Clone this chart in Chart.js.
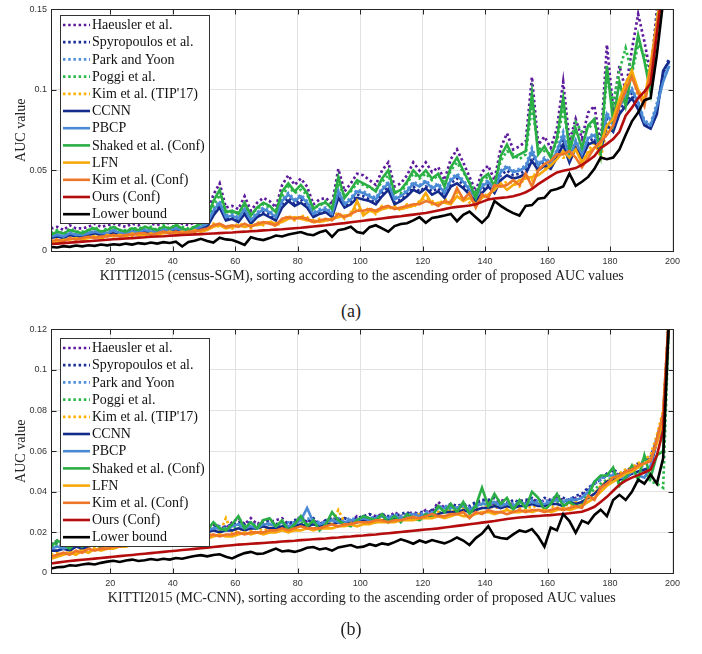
<!DOCTYPE html>
<html>
<head>
<meta charset="utf-8">
<script src="https://cdn.jsdelivr.net/npm/chart.js@4.4.1/dist/chart.umd.min.js"></script>
<style>
  body { margin: 0; background: #fff; width: 702px; height: 654px; position: relative; overflow: hidden; }
  .wrap { position: absolute; left: 0; width: 702px; }
  .cap { position: absolute; left: 0; width: 702px; text-align: center; font: 18px "Liberation Serif", serif; color: #222; }
</style>
</head>
<body>
<div class="wrap" style="top:0;height:300px"><canvas id="chartA"></canvas></div>
<div class="cap" style="top:301px">(a)</div>
<div class="wrap" style="top:320px;height:302px"><canvas id="chartB"></canvas></div>
<div class="cap" style="top:619px">(b)</div>
<script>
// sorted image index (x) shared by every series
const xValues = [1,3,5,7,9,11,13,15,17,19,21,23,25,27,29,31,33,35,37,39,41,43,45,47,49,51,53,55,57,59,
  61,63,65,67,69,71,73,75,77,79,81,83,85,87,89,91,93,95,97,99,101,103,105,107,109,111,113,115,117,119,
  121,123,125,127,129,131,133,135,137,139,141,143,145,147,149,151,153,155,157,159,161,163,165,167,169,171,173,175,177,179,
  181,183,185,187,189,191,193,195,197,199];
const xTicks = [20,40,60,80,100,120,140,160,180,200];
const yTicksA = [0,0.05,0.1,0.15];
const yLabelsA = ['0','0.05','0.1','0.15'];
const yTicksB = [0,0.02,0.04,0.06,0.08,0.1,0.12];
const yLabelsB = ['0','0.02','0.04','0.06','0.08','0.1','0.12'];

const seriesNames = ['Haeusler et al.','Spyropoulos et al.','Park and Yoon','Poggi et al.',"Kim et al. (TIP'17)",
  'CCNN','PBCP','Shaked et al. (Conf)','LFN','Kim et al. (Conf)','Ours (Conf)','Lower bound'];

// (a) KITTI2015 census-SGM, AUC values x 1e-3
const haeuslerA = [14,15,13,16,14,14,15,17,15,16, 17,16,15,17,16,18,17,16,18,17, 19,17,16,18,20,23,35,42,27,28,
  26,34,25,30,33,31,27,41,47,41, 45,40,29,32,33,29,51,37,42,48, 47,44,41,50,55,40,42,47,55,50,
  55,49,52,44,57,63,55,46,37,49, 53,44,64,73,63,65,68,108,66,71, 64,76,105,68,82,70,86,90,66,128,
  88,115,100,125,147,130,110,150,180,200];
const spyroA = [9,10,9,11,10,10,11,12,11,11, 12,11,11,12,12,13,12,12,13,12, 14,13,12,13,15,16,24,29,20,21,
  19,25,18,22,24,23,20,29,33,29, 32,28,22,24,25,22,35,28,31,35, 34,32,30,36,40,30,32,35,40,37,
  40,37,39,34,42,45,41,36,32,38, 41,37,47,50,47,48,50,60,52,55, 53,60,70,57,66,59,68,70,63,82,
  76,88,92,98,90,79,77,88,110,120];
const parkA = [10,11,9,12,10,11,12,12,11,12, 13,12,11,13,12,14,13,12,14,13, 15,13,13,14,16,18,26,31,22,23,
  21,27,20,24,27,25,22,32,36,32, 35,31,24,26,27,24,38,30,33,38, 37,35,33,39,43,33,35,38,43,41,
  44,40,42,37,45,48,44,39,34,41, 44,39,50,53,50,51,53,64,54,58, 55,63,74,59,69,61,71,73,64,86,
  79,91,96,101,93,81,79,92,108,118];
const poggiA = [11,13,10,14,12,12,13,15,12,14, 15,13,13,14,14,15,15,13,16,14, 16,15,14,15,17,19,28,35,25,24,
  24,28,23,26,29,27,25,34,40,36, 38,35,27,28,31,27,42,34,37,42, 41,39,38,43,47,37,36,42,48,45,
  48,44,47,42,50,55,49,43,36,44, 46,42,56,62,60,57,60,90,64,62, 60,68,88,66,80,74,76,80,64,108,
  92,112,126,110,128,122,104,145,175,195];
const kimTipA = [6,8,6,9,7,9,8,10,8,9, 11,9,10,9,11,10,12,10,11,12, 13,11,12,11,13,15,17,15,16,14,
  17,16,14,18,16,19,15,19,22,19, 22,21,17,20,18,21,24,20,24,27, 24,27,23,28,26,28,25,29,27,31,
  33,31,29,32,31,36,33,30,28,36, 34,40,41,43,42,40,47,44,52,51, 55,60,58,57,65,54,62,68,58,75,
  80,92,102,110,96,92,114,140,170,195];
const ccnnA = [8,9,8,10,9,9,10,11,10,10, 11,10,10,11,11,12,11,11,12,12, 13,12,11,13,14,15,22,27,19,20,
  18,23,17,21,23,21,19,27,31,28, 30,27,21,23,24,21,33,27,29,33, 32,31,29,34,38,29,31,34,38,36,
  39,35,37,33,40,42,39,35,31,36, 40,36,44,47,45,46,48,56,50,53, 51,58,66,55,64,58,66,68,62,78,
  74,85,90,95,88,78,76,85,112,118];
const pbcpA = [9,10,9,11,10,10,11,12,11,11, 13,11,11,12,12,13,12,12,13,13, 14,13,12,14,15,17,25,30,21,22,
  20,26,19,23,26,24,21,31,35,31, 34,30,23,25,26,23,37,29,32,37, 36,34,32,38,42,32,34,37,42,40,
  43,39,41,36,44,47,43,38,33,40, 43,38,49,52,49,50,52,62,53,57, 54,62,72,58,68,60,70,72,63,85,
  78,90,95,100,92,80,78,90,105,115];
const shakedA = [10,12,11,13,12,11,13,14,12,13, 15,13,12,14,13,15,14,13,15,14, 16,14,13,15,17,20,31,38,24,25,
  23,30,22,27,30,28,24,37,42,37, 41,36,26,29,30,26,46,33,38,44, 42,40,37,45,50,36,38,43,50,46,
  50,45,48,40,52,58,50,42,33,45, 48,40,59,66,58,60,62,98,60,65, 58,70,95,62,76,64,78,82,60,115,
  80,105,90,112,134,118,98,140,170,190];
const lfnA = [5,6,7,7,8,7,8,9,8,10, 9,10,9,11,10,10,11,10,11,12, 11,12,11,13,12,13,15,16,14,15,
  16,15,16,16,17,18,17,18,20,21, 20,19,19,18,19,20,21,22,22,31, 22,25,24,26,27,27,26,27,28,30,
  36,29,30,30,29,34,31,33,29,33, 35,38,42,38,41,44,45,46,47,50, 53,57,62,58,63,55,61,64,66,78,
  82,94,104,112,100,94,116,142,172,195];
const kimConfA = [6,7,6,8,7,8,9,8,9,9, 10,9,10,10,11,11,10,11,12,11, 12,11,12,12,13,14,16,17,15,16,
  15,17,15,17,18,17,16,20,21,20, 21,20,18,19,20,19,23,21,23,25, 25,26,25,27,28,26,27,28,29,29,
  31,30,28,31,30,39,32,36,27,35, 33,41,40,41,44,41,48,40,50,54, 56,60,60,62,58,52,58,64,68,72,
  78,90,100,108,98,90,112,140,170,195];
const oursA = [4.3,4.6,4.9,5.2,5.5,5.8,6.1,6.4,6.7,7.0, 7.3,7.5,7.8,8.0,8.3,8.5,8.8,9.0,9.2,9.5,
  9.7,9.9,10.1,10.3,10.5,10.7,10.9,11.1,11.3,11.5, 11.8,12.0,12.3,12.5,12.8,13.0,13.3,13.5,13.8,14.1,
  14.4,14.8,15.2,15.6,16.0,16.5,16.9,17.3,17.8,18.3, 18.8,19.3,19.7,20.2,20.7,21.2,21.6,22.1,22.6,23.1,
  23.6,24.4,25.2,26.0,26.8,27.4,27.8,28.2,29.0,30.5, 32.0,32.6,33.0,33.4,34.0,35.0,36.5,38.5,41.5,44.0,
  46.5,48.8,49.8,50.6,51.5,53.5,56.0,59.0,64.0,66.5, 69.5,74.0,84.0,89.0,95.0,99.0,104,135,165,190];
const lowerA = [2.5,2.2,3.0,2.6,3.4,2.9,3.6,3.2,4.0,3.5, 4.2,3.8,4.6,4.0,4.9,4.4,5.3,4.6,5.5,5.0,
  5.8,2.8,5.6,6.3,7.6,6.2,5.2,8.2,7.2,6.8, 5.4,3.8,8.6,7.4,6.8,8.0,9.6,9.0,10.2,11.0,
  11.8,10.4,9.8,11.6,12.8,8.8,12.9,13.6,15.0,11.8, 11.0,14.8,16.0,14.0,12.0,15.5,16.8,17.2,19.0,21.0,
  17.5,20.5,21.2,22.0,23.0,18.5,22.5,24.5,21.0,17.5, 21.5,31.0,28.0,25.5,23.5,22.0,28.0,28.5,32.5,33.0,
  37.5,38.5,40.0,48.0,40.5,43.0,46.0,51.0,58.0,57.0, 58.0,63.0,72.0,80.5,86.0,93.5,95.0,122,155,190];

// (b) KITTI2015 MC-CNN, AUC values x 1e-3
const haeuslerB = [14,16,15,13,16,15,17,15,16,17, 18,15,17,16,18,17,19,17,19,18, 19,20,20,21,21,22,24,23,22,25,
  27,24,27,24,26,25,26,27,24,25, 28,25,26,24,26,27,26,27,25,28, 27,29,28,29,27,30,28,29,30,29,
  31,30,35,32,33,32,34,32,34,36, 35,34,36,35,34,36,35,37,34,36, 35,37,36,35,37,38,41,44,46,48,
  50,48,50,52,53,56,57,65,76,130];
const spyroB = [13,15,13,14,15,14,16,15,14,16, 17,16,17,16,18,17,19,18,17,20, 18,20,19,21,20,22,23,22,23,24,
  25,24,25,23,25,26,24,25,24,26, 27,25,27,24,26,27,26,27,26,27, 28,29,27,29,28,28,29,30,28,30,
  30,31,33,32,34,33,34,33,35,36, 36,37,35,34,36,35,36,37,35,37, 36,38,37,36,38,39,42,44,46,49,
  51,49,50,52,54,55,57,66,78,130];
const parkB = [12,13,14,13,14,15,14,16,15,15, 17,16,16,17,17,18,18,17,19,18, 19,20,20,21,20,21,22,23,22,23,
  24,23,24,24,23,25,24,24,25,25, 26,27,26,25,25,26,27,26,27,26, 28,27,28,28,27,29,28,29,29,29,
  30,30,32,33,33,32,34,32,33,35, 34,35,34,35,34,35,34,36,35,35, 36,36,35,37,36,37,40,44,46,48,
  49,48,49,51,52,53,56,67,74,130];
const poggiB = [12,14,13,15,13,14,15,13,15,14, 16,15,15,16,16,15,17,16,17,18, 17,18,19,19,20,20,22,21,22,22,
  23,23,22,24,23,24,23,24,22,24, 25,24,25,23,24,26,25,24,25,25, 26,26,25,27,25,27,26,28,27,26,
  28,28,30,30,31,30,32,30,32,34, 33,34,33,34,32,34,33,35,34,33, 34,35,34,35,34,35,39,41,44,46,
  47,45,47,49,47,50,45,44,42,130];
const kimTipB = [9,10,9,11,10,12,11,13,12,14, 13,15,14,16,15,16,17,16,17,18, 17,19,18,19,20,19,21,20,27,20,
  21,22,21,22,21,22,23,22,23,22, 24,23,24,23,24,25,31,25,25,26, 26,25,27,26,27,26,28,27,28,29,
  28,29,30,31,30,31,32,30,31,32, 33,32,33,32,34,32,33,32,34,32, 33,32,34,33,35,34,37,39,43,45,
  48,49,51,52,54,56,58,68,80,130];
const ccnnB = [11,11,12,11,13,12,13,14,13,14, 15,14,15,15,16,16,17,16,17,17, 18,18,19,19,19,20,21,20,21,21,
  22,21,22,22,23,22,22,23,22,23, 24,23,24,23,24,24,25,25,24,25, 26,25,26,26,26,27,26,27,27,27,
  28,28,29,30,30,30,31,30,31,32, 32,33,32,33,32,33,33,34,33,33, 34,34,33,35,34,35,37,39,42,45,
  46,46,47,49,50,51,52,65,72,130];
const pbcpB = [12,13,12,13,14,13,15,14,15,15, 16,15,16,17,16,17,18,17,18,18, 19,19,20,20,21,21,22,22,21,23,
  24,22,23,22,24,24,23,25,23,24, 26,32,25,24,25,26,25,25,26,26, 27,26,27,28,27,28,27,28,29,28,
  29,29,32,32,32,32,33,31,33,34, 34,35,33,34,33,35,34,35,34,34, 35,36,35,36,36,37,40,45,47,48,
  48,47,47,50,48,47,53,66,70,130];
const shakedB = [13,16,14,12,15,13,16,14,13,15, 17,14,16,15,17,15,18,16,17,19, 17,19,18,20,19,21,25,22,21,24,
  28,22,25,22,26,27,23,26,21,24, 28,23,26,21,24,30,26,24,23,26, 28,27,26,29,25,28,25,29,27,26,
  29,28,33,30,34,30,35,29,33,42, 33,39,34,37,31,36,32,40,37,31, 34,39,33,35,33,33,38,45,48,48,
  52,43,47,53,46,58,47,58,60,130];
const lfnB = [7,8,9,10,9,11,10,12,11,12, 12,13,13,14,14,15,14,15,15,16, 16,16,17,17,18,17,18,19,18,18,
  19,20,19,20,19,20,20,21,20,21, 21,22,21,22,22,22,23,23,24,23, 24,24,25,25,25,25,26,26,26,27,
  27,27,28,27,28,29,28,28,29,30, 30,29,30,31,30,30,31,30,31,31, 30,31,32,31,32,33,35,37,40,43,
  45,47,49,50,52,54,56,64,75,130];
const kimConfB = [8,9,10,9,11,10,12,11,12,12, 13,13,14,14,15,14,15,15,16,16, 16,17,17,18,17,18,19,18,19,19,
  20,19,20,20,20,21,21,22,21,22, 23,22,22,22,23,24,23,24,24,25, 25,25,26,26,25,26,26,27,27.5,27,
  28,29,28,28,29,29,30,27,30,29, 31,30,30,29,30,31,30,31,31,30, 31,32,31,32,33,32,38,36,42,44,
  47,48,50,51,53,54,55,66,78,130];
const oursB = [4.7,5.1,5.5,5.9,6.2,6.5,6.8,7.1,7.4,7.7, 8.0,8.3,8.6,8.9,9.2,9.5,9.8,10.1,10.4,10.7,
  11.0,11.3,11.6,11.9,12.2,12.5,12.8,13.1,13.4,13.7, 14.0,14.2,14.4,14.6,14.8,15.0,15.2,15.5,15.7,15.9,
  16.2,16.4,16.6,16.8,17.0,17.3,17.5,17.8,18.0,18.3, 18.5,18.8,19.0,19.3,19.6,19.9,20.2,20.5,20.8,21.1,
  21.4,21.7,22.0,22.4,22.8,23.2,23.6,24.0,24.4,24.8, 25.2,25.6,26.1,26.6,27.0,27.3,27.6,27.9,28.1,28.3,
  28.5,28.8,29.1,29.4,29.8,30.2,31.3,32.6,35.0,37.5, 40.5,43.5,45.5,47.0,48.2,49.5,51.0,58.0,70.0,130];
const lowerB = [2.2,2.8,3.0,3.8,3.6,4.2,4.6,4.2,5.0,5.6, 6.0,5.4,6.2,6.6,5.9,6.3,6.9,6.4,7.0,6.6,
  7.4,7.0,7.8,8.4,8.8,8.2,8.9,9.2,8.0,7.2, 8.6,9.8,10.4,9.4,9.6,10.8,12.0,10.6,11.0,10.4,
  11.2,12.4,12.8,11.6,12.2,11.0,12.6,13.2,13.8,12.6, 13.0,14.2,13.4,14.6,14.0,15.2,16.6,15.6,14.4,16.0,
  15.0,16.2,15.4,14.6,15.8,17.5,16.0,13.8,17.2,19.4, 23.0,18.0,17.2,16.8,19.0,21.0,20.2,21.6,18.0,13.0,
  22.4,21.0,29.0,25.6,19.8,25.8,24.4,28.6,31.2,28.0, 36.0,38.5,36.0,40.0,46.0,44.0,48.5,44.0,56.5,130];

const seriesA = [haeuslerA, spyroA, parkA, poggiA, kimTipA, ccnnA, pbcpA, shakedA, lfnA, kimConfA, oursA, lowerA];
const seriesB = [haeuslerB, spyroB, parkB, poggiB, kimTipB, ccnnB, pbcpB, shakedB, lfnB, kimConfB, oursB, lowerB];

const lineStyles = [
  { color: '#5e1a9c', dotted: true },
  { color: '#1a2f9a', dotted: true },
  { color: '#4f8fdc', dotted: true },
  { color: '#2cb94a', dotted: true },
  { color: '#ffb000', dotted: true },
  { color: '#142b8c', dotted: false },
  { color: '#4a8ad4', dotted: false },
  { color: '#2aae45', dotted: false },
  { color: '#f8a90a', dotted: false },
  { color: '#ee7628', dotted: false },
  { color: '#b50d0d', dotted: false },
  { color: '#000000', dotted: false }
];

function makeDatasets(list) {
  return list.map((vals, i) => ({
    label: seriesNames[i],
    data: xValues.map((x, j) => ({ x: x, y: vals[j] / 1000 })),
    borderColor: lineStyles[i].color,
    borderWidth: lineStyles[i].dotted ? 2.7 : 2.6,
    borderDash: lineStyles[i].dotted ? [2.5, 2.7] : [],
    pointRadius: 0,
    tension: 0,
    fill: false,
    order: list.length - 1 - i   // later legend entries drawn on top
  }));
}

// box, inward ticks and the legend inside the axes
const framePlugin = {
  id: 'frame',
  afterDraw(chart, args, opts) {
    const { ctx, chartArea: a, scales } = chart;
    ctx.save();
    ctx.strokeStyle = '#262626';
    ctx.lineWidth = 1;
    const l = Math.round(a.left) + 0.5, t = Math.round(a.top) + 0.5;
    const r = Math.round(a.right) + 0.5, b = Math.round(a.bottom) + 0.5;
    ctx.strokeRect(l, t, r - l, b - t);
    ctx.beginPath();
    scales.x.ticks.forEach(tk => {
      const p = Math.round(scales.x.getPixelForValue(tk.value)) + 0.5;
      ctx.moveTo(p, b); ctx.lineTo(p, b - 5);
      ctx.moveTo(p, t); ctx.lineTo(p, t + 5);
    });
    scales.y.ticks.forEach(tk => {
      const p = Math.round(scales.y.getPixelForValue(tk.value)) + 0.5;
      ctx.moveTo(l, p); ctx.lineTo(l + 5, p);
      ctx.moveTo(r, p); ctx.lineTo(r - 5, p);
    });
    ctx.stroke();

    const L = opts.box;
    ctx.fillStyle = '#fff';
    ctx.fillRect(L.left, L.top, L.width, L.height);
    ctx.strokeStyle = '#333';
    ctx.strokeRect(L.left + 0.5, L.top + 0.5, L.width, L.height);
    ctx.font = '14px "Liberation Serif", "Times New Roman", serif';
    ctx.textBaseline = 'middle';
    chart.data.datasets.forEach((ds, i) => {
      const cy = L.top + 10 + i * L.row;
      ctx.strokeStyle = ds.borderColor;
      ctx.lineWidth = ds.borderWidth;
      ctx.setLineDash(ds.borderDash);
      ctx.beginPath();
      ctx.moveTo(L.left + 3, cy);
      ctx.lineTo(L.left + 30, cy);
      ctx.stroke();
      ctx.setLineDash([]);
      ctx.fillStyle = '#111';
      ctx.fillText(ds.label, L.left + 32, cy + 0.5);
    });
    ctx.restore();
  }
};

function makeChart(id, list, yMax, yTicks, yLabels, xTitle, legendTop) {
  return new Chart(document.getElementById(id), {
    type: 'line',
    data: { datasets: makeDatasets(list) },
    options: {
      responsive: true,
      maintainAspectRatio: false,
      animation: false,
      events: [],
      layout: { padding: { left: 0, right: 29.5, top: 7, bottom: 0 } },
      plugins: {
        legend: { display: false },
        tooltip: { enabled: false },
        frame: { box: { left: 60, top: legendTop, width: 149, height: 208, row: 17.2 } }
      },
      scales: {
        x: {
          type: 'linear', min: 1, max: 200,
          afterBuildTicks: s => { s.ticks = xTicks.map(v => ({ value: v })); },
          afterFit: s => { s.height = 49; },
          grid: { color: '#e2e2e2', drawTicks: false },
          border: { display: false },
          ticks: { padding: 5, color: '#333', font: { family: '"Liberation Sans", Arial, sans-serif', size: 9 } },
          title: { display: true, text: xTitle, color: '#222', padding: { top: 0, bottom: 15 },
                   font: { family: '"Liberation Serif", "Times New Roman", serif', size: 14 } }
        },
        y: {
          min: 0, max: yMax,
          afterBuildTicks: s => { s.ticks = yTicks.map(v => ({ value: v })); },
          afterFit: s => { s.width = 51; },
          grid: { color: '#e2e2e2', drawTicks: false },
          border: { display: false },
          ticks: { padding: 4, color: '#333', callback: (v, i) => yLabels[i],
                   font: { family: '"Liberation Sans", Arial, sans-serif', size: 9 } },
          title: { display: true, text: 'AUC value', color: '#222', padding: { top: 13, bottom: 0 },
                   font: { family: '"Liberation Serif", "Times New Roman", serif', size: 14 } }
        }
      }
    },
    plugins: [framePlugin]
  });
}

makeChart('chartA', seriesA, 0.15, yTicksA, yLabelsA,
  'KITTI2015 (census-SGM), sorting according to the ascending order of proposed AUC values', 15);
makeChart('chartB', seriesB, 0.12, yTicksB, yLabelsB,
  'KITTI2015 (MC-CNN), sorting according to the ascending order of proposed AUC values', 18);
</script>
</body>
</html>
